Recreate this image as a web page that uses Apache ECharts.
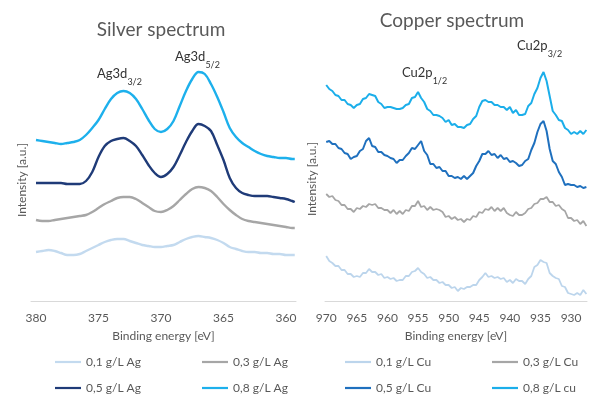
<!DOCTYPE html>
<html>
<head>
<meta charset="utf-8">
<script src="https://cdn.jsdelivr.net/npm/echarts@6/dist/echarts.min.js"></script>
<style>
  html, body { margin: 0; padding: 0; background: #ffffff; }
  #chart { width: 591px; height: 394px; }
</style>
</head>
<body>
<div id="chart"></div>
<script>
// ---- Silver (Ag 3d) region: binding energies [eV] and intensities [a.u.], 0.5 eV steps
const agEnergy = [380, 379.5, 379, 378.5, 378, 377.5, 377, 376.5, 376, 375.5,
                  375, 374.5, 374, 373.5, 373, 372.5, 372, 371.5, 371, 370.5,
                  370, 369.5, 369, 368.5, 368, 367.5, 367, 366.5, 366, 365.5,
                  365, 364.5, 364, 363.5, 363, 362.5, 362, 361.5, 361, 360.5,
                  360, 359.5, 359.3];
const ag01 = [49, 50, 51, 50, 48, 46, 46, 47, 50, 53,
              56, 59, 61, 62, 62, 60, 58, 56, 55, 54,
              54, 55, 56, 59, 62, 64, 65, 64, 63, 61,
              58, 54, 52, 50, 49, 49, 48, 48, 47, 47,
              46, 46, 46];
const ag03 = [81, 80, 80, 81, 82, 83, 84, 85, 86, 89,
              93, 97, 100, 103, 104, 104, 102, 98, 94, 90,
              89, 91, 95, 101, 107, 112, 114, 113, 110, 104,
              97, 91, 86, 82, 80, 79, 78, 77, 76, 75,
              74, 73, 73];
const ag05 = [118, 118, 118, 118, 118, 117, 117, 117, 120, 129,
              144, 155, 160, 162, 163, 160, 155, 146, 136, 128,
              124, 127, 134, 146, 159, 170, 177, 175, 170, 156,
              141, 123, 113, 108, 106, 105, 105, 105, 104, 103,
              102, 100, 99];
const ag08 = [161, 160, 159, 158, 157, 158, 159, 161, 166, 173,
              181, 192, 202, 208, 210, 208, 202, 192, 181, 172,
              169, 172, 180, 195, 210, 222, 229, 227, 217, 204,
              189, 173, 164, 158, 154, 150, 147, 145, 144, 143,
              143, 142, 142];
const agTicks = [360, 365, 370, 375, 380];
const agNames = ['0,1 g/L Ag', '0,3 g/L Ag', '0,5 g/L Ag', '0,8 g/L Ag'];

// ---- Copper (Cu 2p) region, 0.5 eV steps
const cuEnergy = [970, 969.5, 969, 968.5, 968, 967.5, 967, 966.5, 966, 965.5,
                  965, 964.5, 964, 963.5, 963, 962.5, 962, 961.5, 961, 960.5,
                  960, 959.5, 959, 958.5, 958, 957.5, 957, 956.5, 956, 955.5,
                  955, 954.5, 954, 953.5, 953, 952.5, 952, 951.5, 951, 950.5,
                  950, 949.5, 949, 948.5, 948, 947.5, 947, 946.5, 946, 945.5,
                  945, 944.5, 944, 943.5, 943, 942.5, 942, 941.5, 941, 940.5,
                  940, 939.5, 939, 938.5, 938, 937.5, 937, 936.5, 936, 935.5,
                  935, 934.5, 934, 933.5, 933, 932.5, 932, 931.5, 931, 930.5,
                  930, 929.5, 929, 928.5, 928, 927.5];
const cu01 = [45, 40, 38, 35, 35, 31, 31, 27, 27, 24,
              25, 24, 28, 28, 32, 29, 29, 26, 27, 23,
              24, 22, 23, 20, 21, 21, 25, 25, 29, 30,
              33, 29, 27, 23, 24, 21, 21, 18, 19, 16,
              16, 13, 14, 10, 13, 12, 14, 14, 16, 16,
              21, 24, 28, 24, 25, 23, 24, 22, 23, 19,
              21, 18, 22, 20, 20, 17, 22, 25, 34, 36,
              41, 39, 38, 28, 25, 23, 22, 15, 14, 8,
              7, 6, 8, 6, 11, 7];
const cu03 = [107, 104, 105, 101, 100, 96, 96, 92, 92, 89,
              93, 92, 95, 94, 97, 96, 97, 93, 93, 91,
              91, 88, 91, 87, 90, 87, 91, 90, 95, 95,
              100, 94, 95, 91, 94, 91, 92, 91, 89, 84,
              85, 82, 84, 81, 82, 79, 82, 81, 85, 84,
              89, 88, 92, 91, 94, 90, 93, 90, 93, 88,
              86, 85, 89, 86, 86, 88, 92, 93, 97, 98,
              102, 102, 104, 99, 99, 95, 96, 92, 90, 83,
              83, 80, 81, 77, 80, 75];
const cu05 = [159, 160, 157, 157, 153, 152, 148, 147, 142, 144,
              145, 150, 152, 160, 163, 155, 154, 149, 149, 146,
              145, 143, 142, 138, 141, 141, 145, 148, 153, 152,
              156, 160, 150, 146, 137, 137, 133, 134, 130, 130,
              125, 125, 123, 124, 122, 125, 122, 125, 128, 135,
              140, 147, 147, 150, 146, 147, 143, 146, 142, 143,
              139, 140, 138, 135, 136, 140, 142, 151, 158, 169,
              177, 180, 170, 152, 140, 137, 129, 124, 116, 117,
              116, 116, 114, 115, 113, 114];
const cu08 = [216, 212, 210, 206, 205, 201, 201, 197, 196, 193,
              196, 197, 202, 203, 207, 206, 205, 199, 197, 193,
              194, 194, 193, 192, 192, 193, 196, 197, 203, 204,
              209, 203, 199, 192, 190, 186, 186, 185, 183, 179,
              181, 176, 177, 174, 174, 173, 176, 177, 182, 185,
              194, 200, 201, 199, 199, 196, 196, 194, 194, 191,
              194, 188, 191, 186, 186, 187, 195, 198, 207, 213,
              223, 229, 220, 205, 190, 186, 181, 180, 173, 171,
              167, 169, 167, 170, 167, 171];
const cuTicks = [930, 935, 940, 945, 950, 955, 960, 965, 970];
const cuNames = ['0,1 g/L Cu', '0,3 g/L Cu', '0,5 g/L Cu', '0,8 g/L cu'];

const FONT = 'Lato, "Open Sans", sans-serif';
const GREY_TEXT = '#595959';
const agColors = ['#C3DAEF', '#A6A6A6', '#1F3B78', '#1DB0EC'];
const cuColors = ['#BCD5EC', '#A6A6A6', '#1F70BE', '#1BAEEA'];

function pairs(xs, ys) { return xs.map((x, i) => [x, ys[i]]); }

function energyAxis(gridIndex, min, max, ticks) {
  return {
    type: 'value', gridIndex: gridIndex, inverse: true, min: min, max: max,
    name: 'Binding energy [eV]', nameLocation: 'middle', nameGap: 29,
    nameTextStyle: { color: GREY_TEXT, fontFamily: FONT, fontSize: 12 },
    axisLine: { show: true, lineStyle: { color: '#D9D9D9', width: 1 } },
    axisTick: { show: false },
    splitLine: { show: false },
    axisLabel: { customValues: ticks, color: GREY_TEXT, fontFamily: FONT, fontSize: 12, margin: 11 }
  };
}
function intensityAxis(gridIndex) {
  return {
    type: 'value', gridIndex: gridIndex, min: 0, max: 260,
    axisLine: { show: false }, axisTick: { show: false },
    axisLabel: { show: false }, splitLine: { show: false }
  };
}

const series = [];
[ag01, ag03, ag05, ag08].forEach((vals, i) => {
  series.push({
    type: 'line', name: agNames[i], xAxisIndex: 0, yAxisIndex: 0,
    data: pairs(agEnergy, vals), smooth: 0.35, symbol: 'none',
    lineStyle: { color: agColors[i], width: 2.4 }, itemStyle: { color: agColors[i] }
  });
});
[cu01, cu03, cu05, cu08].forEach((vals, i) => {
  series.push({
    type: 'line', name: cuNames[i], xAxisIndex: 1, yAxisIndex: 1,
    data: pairs(cuEnergy, vals), symbol: 'none',
    lineStyle: { color: cuColors[i], width: i >= 2 ? 2 : 1.8 }, itemStyle: { color: cuColors[i] }
  });
});

// one legend per entry so the two-column layout lines up exactly
const legendSpots = [[50, 351], [197, 351], [50, 377], [197, 377]];
const legends = [];
[agNames, cuNames].forEach((names, p) => {
  names.forEach((n, i) => {
    legends.push({
      data: [n], left: legendSpots[i][0] + p * 290, top: legendSpots[i][1],
      icon: 'rect', itemWidth: 26, itemHeight: 2.2, selectedMode: false,
      textStyle: { color: GREY_TEXT, fontFamily: FONT, fontSize: 12 }
    });
  });
});

function peakLabel(x, y, main, sub) {
  return {
    type: 'text', x: x, y: y,
    style: {
      text: '{m|' + main + '}{s|' + sub + '}',
      textVerticalAlign: 'middle', fill: '#333333',
      rich: {
        m: { fontFamily: FONT, fontSize: 13, lineHeight: 16, verticalAlign: 'top', fill: '#333333' },
        s: { fontFamily: FONT, fontSize: 9, lineHeight: 19, verticalAlign: 'bottom', fill: '#333333' }
      }
    }
  };
}
function sideName(x, y) {
  return {
    type: 'text', x: x, y: y, rotation: Math.PI / 2,
    style: { text: 'Intensity [a.u.]', textAlign: 'center', textVerticalAlign: 'middle',
             fill: GREY_TEXT, font: '12px ' + FONT }
  };
}
function heading(x, y, t) {
  return {
    type: 'text', x: x, y: y,
    style: { text: t, textAlign: 'center', textVerticalAlign: 'middle',
             fill: GREY_TEXT, font: '19px ' + FONT }
  };
}

const chart = echarts.init(document.getElementById('chart'), null, { renderer: 'canvas' });
chart.setOption({
  backgroundColor: '#ffffff',
  animation: false,
  grid: [
    { left: 31, width: 265, top: 41, bottom: 93 },
    { left: 325, width: 262, top: 41, bottom: 93 }
  ],
  xAxis: [energyAxis(0, 359.2, 380.4, agTicks), energyAxis(1, 927.4, 970.2, cuTicks)],
  yAxis: [intensityAxis(0), intensityAxis(1)],
  legend: legends,
  series: series,
  graphic: [
    heading(161, 30, 'Silver spectrum'),
    heading(452, 21, 'Copper spectrum'),
    sideName(22, 180),
    sideName(312, 179),
    peakLabel(97, 77, 'Ag3d', '3/2'),
    peakLabel(175, 60, 'Ag3d', '5/2'),
    peakLabel(402, 76, 'Cu2p', '1/2'),
    peakLabel(517, 49, 'Cu2p', '3/2')
  ]
});
</script>
</body>
</html>
